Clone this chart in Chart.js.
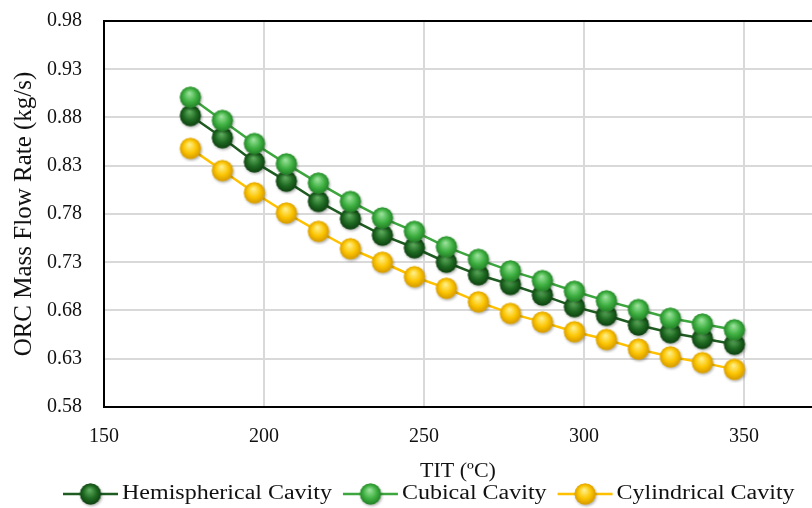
<!DOCTYPE html>
<html>
<head>
<meta charset="utf-8">
<script src="https://cdn.jsdelivr.net/npm/chart.js@4.4.0/dist/chart.umd.min.js"></script>
<style>
html, body { margin: 0; padding: 0; background: #fff; }
</style>
</head>
<body>
<canvas id="myChart" width="812" height="508"></canvas>
<script>
// values
const tit = [177, 187, 197, 207, 217, 227, 237, 247, 257, 267, 277, 287, 297, 307, 317, 327, 337, 347];
const hemispherical = [0.882, 0.859, 0.834, 0.814, 0.793, 0.775, 0.758, 0.745, 0.730, 0.717, 0.707, 0.696, 0.684, 0.675, 0.665, 0.657, 0.651, 0.645];
const cubical = [0.901, 0.877, 0.853, 0.832, 0.812, 0.793, 0.776, 0.762, 0.746, 0.733, 0.721, 0.711, 0.700, 0.690, 0.681, 0.672, 0.666, 0.660];
const cylindrical = [0.848, 0.825, 0.802, 0.781, 0.762, 0.744, 0.730, 0.715, 0.703, 0.689, 0.677, 0.668, 0.658, 0.650, 0.640, 0.632, 0.626, 0.619];
const seriesNames = ['Hemispherical Cavity', 'Cubical Cavity', 'Cylindrical Cavity'];
const xTickValues = [150, 200, 250, 300, 350];
const yTickValues = [0.58, 0.63, 0.68, 0.73, 0.78, 0.83, 0.88, 0.93, 0.98];

const FONT = '"Liberation Serif", "Times New Roman", serif';

// shiny ball marker, like the excel ones
function makeBall(light, base, dark) {
  const c = document.createElement('canvas');
  c.width = 28; c.height = 28;
  const g = c.getContext('2d');
  const r = 10.5, cx = 14, cy = 14;
  g.save();
  g.shadowColor = 'rgba(0,0,0,0.35)';
  g.shadowBlur = 3;
  g.shadowOffsetX = 1;
  g.shadowOffsetY = 1.5;
  g.beginPath();
  g.arc(cx, cy, r, 0, Math.PI * 2);
  g.fillStyle = base;
  g.fill();
  g.restore();
  const grad = g.createRadialGradient(cx - 1, cy - 4, 0.5, cx, cy, r * 1.1);
  grad.addColorStop(0, light);
  grad.addColorStop(0.55, base);
  grad.addColorStop(1, dark);
  g.beginPath();
  g.arc(cx, cy, r, 0, Math.PI * 2);
  g.fillStyle = grad;
  g.fill();
  return c;
}

const balls = [
  makeBall('#5fae5f', '#1f6a22', '#0c3a0e'),
  makeBall('#9be29b', '#3fb142', '#1e7a22'),
  makeBall('#fff08a', '#fbc400', '#cf9200')
];
const lineColors = ['#1f5c21', '#3ea63f', '#ffc000'];
const seriesData = [hemispherical, cubical, cylindrical];

function points(arr) {
  return arr.map(function(v, i) { return {x: tit[i], y: v}; });
}

// top edge of the plot box
const topBorder = {
  id: 'topBorder',
  beforeDatasetsDraw(chart) {
    const a = chart.chartArea, ctx = chart.ctx;
    ctx.save();
    ctx.strokeStyle = '#000';
    ctx.lineWidth = 2;
    ctx.beginPath();
    ctx.moveTo(a.left - 1, a.top);
    ctx.lineTo(a.right, a.top);
    ctx.stroke();
    ctx.restore();
  }
};

// excel style legend: line with marker, then the name
const lineLegend = {
  id: 'lineLegend',
  afterDraw(chart) {
    const ctx = chart.ctx;
    const y = 494;
    const stretch = 1.2;
    let x = 63;
    ctx.save();
    ctx.font = '20px ' + FONT;
    ctx.textBaseline = 'middle';
    ctx.fillStyle = '#111';
    for (let i = 0; i < seriesNames.length; i++) {
      ctx.strokeStyle = lineColors[i];
      ctx.lineWidth = 2.5;
      ctx.beginPath();
      ctx.moveTo(x, y);
      ctx.lineTo(x + 55, y);
      ctx.stroke();
      ctx.drawImage(balls[i], x + 27.5 - 14, y - 14);
      const tx = x + 59;
      ctx.save();
      ctx.translate(tx, y);
      ctx.scale(stretch, 1);
      ctx.fillText(seriesNames[i], 0, 0);
      ctx.restore();
      x = tx + ctx.measureText(seriesNames[i]).width * stretch + 11;
    }
    ctx.restore();
  }
};

const ctx = document.getElementById('myChart').getContext('2d');

let myChart = new Chart(ctx, {
  type: 'line',
  data: {
    datasets: seriesNames.map(function(name, i) {
      return {
        label: name,
        data: points(seriesData[i]),
        borderColor: lineColors[i],
        borderWidth: 2.5,
        pointStyle: balls[i],
        pointRadius: 10,
        pointHoverRadius: 10,
        fill: false,
        tension: 0,
        order: 3 - i
      };
    })
  },
  options: {
    responsive: false,
    animation: false,
    devicePixelRatio: 1,
    layout: { autoPadding: false, padding: { top: 21, right: 0, bottom: 28, left: 0 } },
    plugins: {
      legend: { display: false },
      tooltip: { enabled: false }
    },
    scales: {
      x: {
        type: 'linear',
        min: 150,
        max: 371.25,
        afterBuildTicks: function(s) { s.ticks = xTickValues.map(function(v) { return {value: v}; }); },
        afterFit: function(s) { s.height = 73; s.paddingLeft = 0; s.paddingRight = 0; },
        grid: { color: '#d9d9d9', lineWidth: 2, drawTicks: false },
        border: { color: '#000', width: 2 },
        ticks: { color: '#111', font: { family: FONT, size: 20 }, padding: 18, maxRotation: 0 },
        title: {
          display: true,
          text: 'TIT (ºC)',
          color: '#111',
          font: { family: FONT, size: 22, lineHeight: 1 },
          padding: { top: 0, bottom: -2 }
        }
      },
      y: {
        min: 0.58,
        max: 0.98,
        afterBuildTicks: function(s) { s.ticks = yTickValues.map(function(v) { return {value: v}; }); },
        // the label padding would otherwise push the plot top down
        afterFit: function(s) { s.width = 104; s.paddingTop = 0; s.paddingBottom = 0; },
        grid: { color: '#d9d9d9', lineWidth: 2, drawTicks: false },
        border: { color: '#000', width: 2 },
        ticks: {
          color: '#111',
          font: { family: FONT, size: 20 },
          padding: 22,
          callback: function(v) { return Number(v).toFixed(2); }
        },
        title: {
          display: true,
          text: 'ORC Mass Flow Rate (kg/s)',
          color: '#111',
          font: { family: FONT, size: 25, lineHeight: 1 },
          padding: { top: 12, bottom: 0 }
        }
      }
    }
  },
  plugins: [topBorder, lineLegend]
});
</script>
</body>
</html>
